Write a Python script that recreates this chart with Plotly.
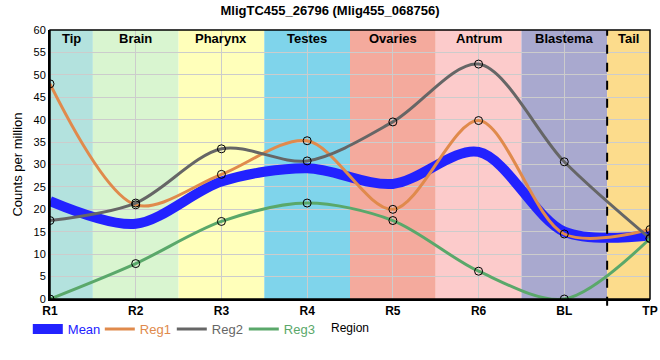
import plotly.graph_objects as go

regions = ["R1", "R2", "R3", "R4", "R5", "R6", "BL", "TP"]
reg1 = [48.0, 21.0, 27.8, 35.3, 20.0, 39.8, 14.5, 15.5]
reg2 = [17.5, 21.4, 33.5, 30.8, 39.5, 52.4, 30.6, 13.5]
reg3 = [0.0, 7.9, 17.3, 21.4, 17.5, 6.2, 0.0, 13.5]
mean = [round((a + b + c) / 3, 2) for a, b, c in zip(reg1, reg2, reg3)]

band_names = ["Tip", "Brain", "Pharynx", "Testes", "Ovaries", "Antrum", "Blastema", "Tail"]
band_edges = [0, 0.5, 1.5, 2.5, 3.5, 4.5, 5.5, 6.5, 7]
band_colors = ["#b3e2de", "#d9f5d0", "#ffffba", "#7fd4eb", "#f4aa9d", "#fccbcb", "#a9a9cf", "#fcdc8c"]

xs = list(range(len(regions)))
font = "Liberation Sans, Arial, sans-serif"

fig = go.Figure()
series = [("Mean", mean, "#2222ff", 10, False),
          ("Reg1", reg1, "#e08a4c", 3, True),
          ("Reg2", reg2, "#666666", 3, True),
          ("Reg3", reg3, "#5aa86a", 3, True)]
for name, vals, col, w, mk in series:
    fig.add_trace(go.Scatter(x=xs, y=vals, mode="lines",
                             name="<span style='color:%s'>%s</span>" % (col, name),
                             line=dict(color=col, width=w, shape="spline", smoothing=0.9)))
for name, vals, col, w, mk in series:
    if mk:
        fig.add_trace(go.Scatter(x=xs, y=vals, mode="markers", showlegend=False,
                                 marker=dict(symbol="circle-open", size=8, color="black",
                                             line=dict(width=1))))

shapes = []
annotations = []
for i, nm in enumerate(band_names):
    x0, x1 = band_edges[i], band_edges[i + 1]
    shapes.append(dict(type="rect", xref="x", yref="paper", x0=x0, x1=x1, y0=0, y1=1,
                       fillcolor=band_colors[i], line=dict(width=0), layer="below"))
    annotations.append(dict(x=(x0 + x1) / 2, y=1.004, xref="x", yref="paper", text="<b>%s</b>" % nm,
                            showarrow=False, yanchor="top", font=dict(size=13, color="black", family=font)))
shapes.append(dict(type="line", xref="x", yref="paper", x0=6.5, x1=6.5, y0=-0.025, y1=1,
                   line=dict(color="black", width=2, dash="dash")))
shapes.append(dict(type="rect", xref="paper", yref="paper", x0=0, x1=1, y0=0, y1=1,
                   line=dict(color="black", width=1.5)))

fig.update_layout(
    width=660, height=360,
    margin=dict(l=50, r=10, t=30, b=61, autoexpand=False),
    paper_bgcolor="white", plot_bgcolor="white",
    font=dict(family=font, size=12, color="black"),
    title=dict(text="<b>MligTC455_26796 (Mlig455_068756)</b>", x=0.5, xanchor="center",
               y=0.985, yanchor="top", font=dict(size=13, color="black", family=font)),
    shapes=shapes, annotations=annotations,
    legend=dict(orientation="h", x=-0.037, xanchor="left", y=-0.112, yanchor="middle",
                font=dict(size=13, family=font), bgcolor="rgba(0,0,0,0)",
                entrywidth=27, tracegroupgap=0),
    showlegend=True,
)
fig.update_xaxes(range=[0, 7], tickmode="array", tickvals=xs, ticktext=["<b>%s</b>" % r for r in regions],
                 showgrid=True, gridcolor="#cccccc", gridwidth=1, zeroline=False, automargin=False,
                 showline=True, linecolor="black", linewidth=2, ticks="", tickfont=dict(size=12),
                 title=dict(text="Region", font=dict(size=12), standoff=6))
fig.update_yaxes(range=[0, 60], dtick=5, showgrid=True, gridcolor="#cccccc", gridwidth=1, zeroline=False,
                 showline=True, linecolor="black", linewidth=2, ticks="", tickfont=dict(size=11),
                 automargin=False,
                 title=dict(text="Counts per million", font=dict(size=13), standoff=8))

fig.write_html("out.html", config={"displayModeBar": False},
               post_script="document.body.style.margin='0';document.body.style.padding='0';")
